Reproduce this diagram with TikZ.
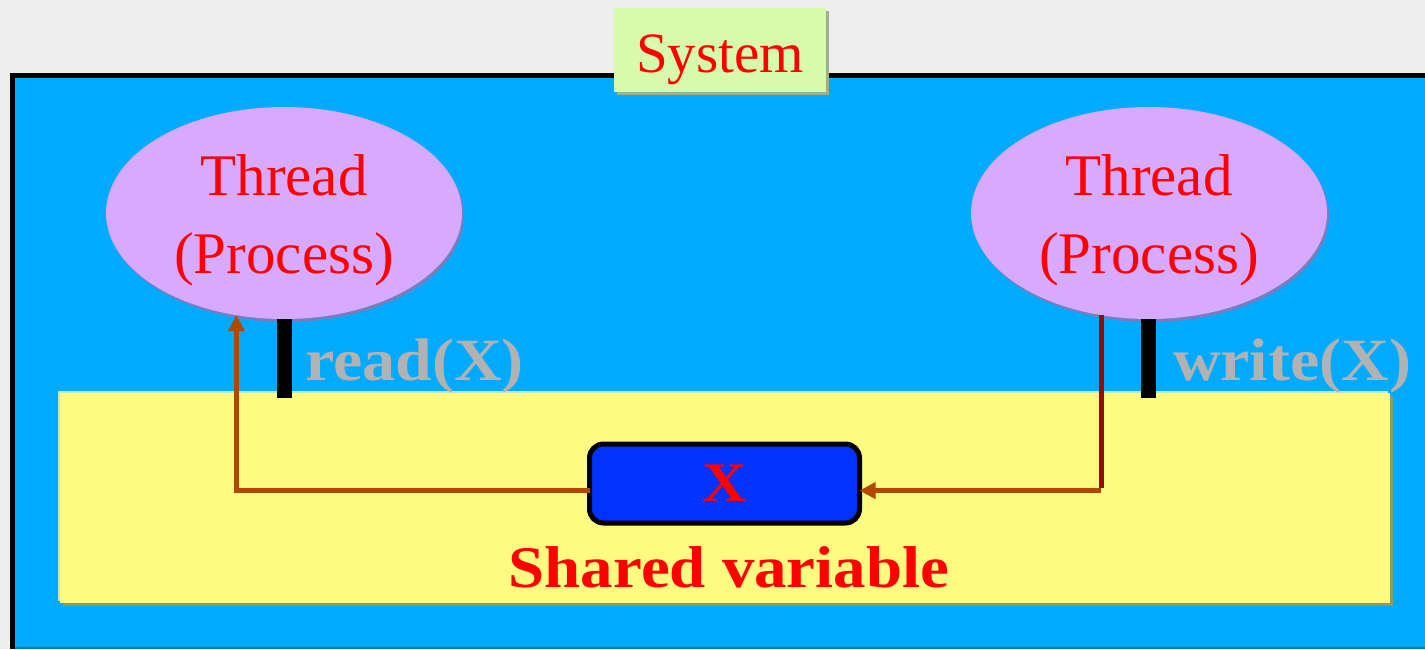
\documentclass[tikz,border=0pt]{standalone}
\usepackage{fontspec}
\setmainfont{Liberation Serif}[BoldFeatures={FakeStretch=1.1}]
\usetikzlibrary{shapes.geometric,arrows.meta,positioning,shadows}

\definecolor{ceeeeee}{RGB}{238,238,238}
\definecolor{c00aaff}{RGB}{0,170,255}
\definecolor{c0077b0}{RGB}{0,119,176}
\definecolor{cd6fbaa}{RGB}{214,251,170}
\definecolor{c9cb090}{RGB}{156,176,144}
\definecolor{cd8aaff}{RGB}{216,170,255}
\definecolor{c7080c0}{RGB}{112,128,192}
\definecolor{cfffb80}{RGB}{255,251,128}
\definecolor{c80a070}{RGB}{128,160,112}
\definecolor{cb4eccc}{RGB}{180,236,204}
\definecolor{c0033ff}{RGB}{0,51,255}
\definecolor{cb04800}{RGB}{176,72,0}
\definecolor{c901000}{RGB}{144,16,0}
\definecolor{cb2b2b2}{RGB}{178,178,178}

\begin{document}
\begin{tikzpicture}[x=1pt, y=1pt, yscale=-1, inner sep=0pt, outer sep=0pt,
  syslabel/.style={fill=cd6fbaa, minimum width=212pt, minimum height=84pt,
    text=red, font=\fontsize{57}{68}\selectfont, text height=56pt, text depth=12pt,
    drop shadow={shadow xshift=3pt, shadow yshift=-3pt, fill=c9cb090, opacity=1}},
  thread/.style={ellipse, fill=cd8aaff, minimum width=356pt, minimum height=212pt,
    text=red, align=center, font=\fontsize{59}{78}\selectfont,
    text height=134pt, text depth=13pt,
    drop shadow={shadow xshift=2pt, shadow yshift=-3pt, fill=c7080c0, opacity=1}},
  varbox/.style={rectangle, rounded corners=14pt, draw=black, line width=5pt,
    fill=c0033ff, minimum width=270pt, minimum height=79pt,
    text=red, font=\fontsize{56}{67}\selectfont\bfseries},
  oplabel/.style={anchor=base west, text=cb2b2b2, font=\fontsize{60}{72}\selectfont\bfseries},
  flow/.style={draw=cb04800, line width=5pt, -{Triangle[length=16pt,width=16pt]}},
  wline/.style={draw=c901000, line width=5pt}]
\useasboundingbox (0,0) rectangle (1425,649);
\fill[ceeeeee] (0,0) rectangle (1425,649);
\fill[c00aaff] (10,73) rectangle (1425,649);
\draw[c0077b0, line width=1.5pt] (10,648) -- (1425,648);
\draw[black, line width=5pt] (12.5,649) -- (12.5,75.5) -- (1425,75.5);

\node[syslabel] (system) at (720,50) {System};

% shared memory area
\fill[c80a070] (63,396) rectangle (1393,606);
\fill[cb4eccc] (58,391) rectangle (1388,601);
\fill[cfffb80] (60,393) rectangle (1390,603);
\node[text=red, font=\fontsize{59}{70}\selectfont\bfseries] (shared) at (729,567) {Shared variable};

\node[thread] (tl) at (284,213) {Thread\\(Process)};
\node[thread] (tr) at (1149,213) {Thread\\(Process)};

\fill[black] (277,319) rectangle (292,398);
\fill[black] (1141,319) rectangle (1156,398);
\node[oplabel] (rd) at (305,380) {read(X)};
\node[oplabel] (wr) at (1173,380) {write(X)};

\node[varbox] (xvar) at (724.5,483.5) {X};

\draw[flow] (xvar.183) -| (tl.-115);
\coordinate (wturn) at (tr.-115 |- xvar.-3);
\draw[wline] (tr.-115) -- ([yshift=-2.5pt]wturn);
\draw[flow] (wturn) -- (xvar.-3);
\end{tikzpicture}
\end{document}
